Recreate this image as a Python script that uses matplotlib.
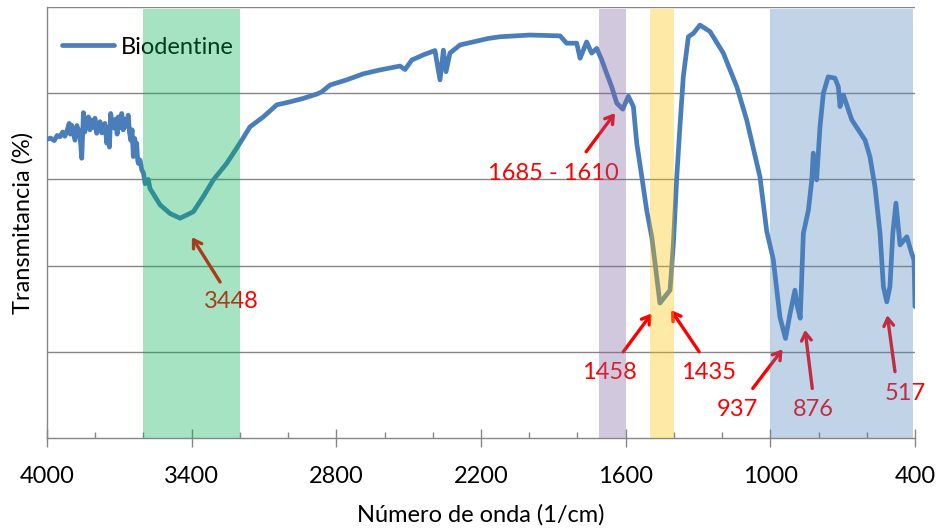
import matplotlib
matplotlib.use("Agg")
import matplotlib.pyplot as plt
from matplotlib.ticker import MultipleLocator

# ---------------- data ----------------
wavenumber = [4000, 3985, 3970, 3958, 3946, 3935, 3926, 3918, 3908, 3903, 3898,
              3891, 3884, 3876, 3870, 3866, 3860, 3856, 3852, 3849, 3843, 3839,
              3835, 3828, 3822, 3815, 3808, 3801, 3794, 3788, 3780, 3773, 3766,
              3760, 3752, 3746, 3741, 3736, 3729, 3722, 3715, 3709, 3704, 3697,
              3690, 3684, 3679, 3676, 3669, 3663, 3658, 3653, 3647, 3642, 3636,
              3632, 3628, 3624, 3621, 3614, 3607, 3600, 3593, 3586, 3580, 3573,
              3563, 3552, 3531, 3490, 3448, 3393, 3352,
              3310, 3255, 3200, 3158, 3103, 3047, 2992, 2937, 2881, 2861, 2826,
              2757, 2688, 2619, 2536, 2515, 2487, 2439, 2391, 2370, 2356, 2345,
              2329, 2287, 2232, 2170, 2121, 1997, 1872, 1845, 1803, 1789, 1762,
              1741, 1720, 1699, 1679, 1658, 1637, 1612, 1589, 1568, 1554, 1533,
              1513, 1492, 1478, 1458, 1437, 1416, 1402, 1388, 1375, 1361, 1340,
              1319, 1292, 1250, 1195, 1139, 1098, 1056, 1043, 1015, 988, 960,
              937, 918, 898, 888, 876, 863, 842, 828, 822, 808, 794, 780, 760,
              732, 718, 711, 697, 662, 635, 607, 587, 566, 545, 531, 517, 504,
              492, 479, 462, 434, 414, 404, 400]
transmittance = [69.3, 69.6, 69.0, 70.2, 69.9, 71.0, 70.0, 71.1, 73.0, 70.5, 72.6,
                 70.8, 69.1, 72.5, 70.6, 71.5, 68.0, 64.9, 70.5, 75.5, 71.0, 74.0,
                 72.2, 74.5, 71.5, 73.8, 72.0, 74.2, 70.7, 72.5, 73.4, 70.8, 71.1,
                 73.0, 68.4, 72.0, 67.5, 75.3, 72.8, 71.9, 74.0, 70.5, 74.5, 72.0,
                 75.3, 71.5, 74.0, 72.2, 73.5, 74.9, 71.0, 69.1, 71.5, 65.3, 69.5,
                 66.5, 68.4, 64.5, 63.7, 64.5, 62.2, 61.5, 59.0, 59.5, 60.0, 57.9,
                 57.0, 56.0, 54.1, 52.1, 51.0, 52.5, 56.0,
                 59.9, 63.7, 68.4, 72.2, 74.5, 77.3, 78.0, 78.8, 79.8, 80.3, 81.9,
                 83.1, 84.5, 85.4, 86.3, 85.5, 87.7, 88.9, 89.9, 83.1, 90.0, 85.0,
                 89.3, 91.2, 91.9, 92.7, 93.1, 93.5, 93.3, 91.6, 91.6, 88.1, 91.9,
                 89.3, 90.4, 87.7, 84.6, 81.5, 77.7, 76.3, 79.3, 76.9, 68.4, 60.6,
                 52.9, 46.7, 40.5, 31.3, 32.8, 34.3, 45.2, 60.6, 72.2, 83.8, 93.1,
                 93.9, 95.8, 94.3, 89.3, 81.5, 73.8, 63.7, 60.6, 48.0, 41.5, 28.0,
                 23.1, 28.9, 34.3, 30.5, 27.8, 47.5, 52.9, 59.9, 66.1, 59.9, 72.2,
                 80.0, 83.8, 83.5, 81.5, 76.9, 79.6, 73.8, 71.5, 69.1, 65.3, 58.3,
                 47.5, 35.1, 31.6, 35.1, 47.5, 54.5, 44.8, 46.7, 42.9, 41.3, 30.5]
series_name = "Biodentine"

band_ranges = [(3600, 3200), (1710, 1600), (1500, 1400), (1000, 408)]
band_colors = ["#00B050", "#8064A2", "#FFC000", "#4F81BD"]

peak_labels = ["3448", "1685 - 1610", "1458", "1435", "937", "876", "517"]
# (arrow head, arrow tail, text centre) in data units
peak_arrows = [((3399, 46.6), (3282, 36.2), (3237, 31.6)),
               ((1644, 75.4), (1764, 66.4), (1899, 61.4)),
               ((1492, 28.9), (1610, 20.0), (1666, 15.3)),
               ((1412, 29.7), (1295, 20.0), (1258, 15.3)),
               ((949, 20.6), (1073, 11.5), (1138, 6.7)),
               ((856, 25.1), (826, 11.5), (823, 6.7)),
               ((515, 28.5), (483, 15.4), (441, 10.4))]

x_ticks = [4000, 3400, 2800, 2200, 1600, 1000, 400]
y_grid = [20, 40, 60, 80, 100]

# ---------------- figure ----------------
plt.rcParams['font.family'] = ['Lato', 'DejaVu Sans']
FS = 17
fig = plt.figure(figsize=(9.4, 5.31), dpi=100)
ax = fig.add_axes([0.05, 0.1751, 0.9234, 0.8117])

ax.set_xlim(4000, 400)
ax.set_ylim(0, 100)

for g in y_grid:
    ax.axhline(g, color="#868686", lw=1.0, zorder=1)

ax.plot(wavenumber, transmittance, color="#4A7EBB", lw=3.4, zorder=3,
        solid_joinstyle="round", solid_capstyle="round", label=series_name)

red = "#FF0000"
for lab, (head, tail, txt) in zip(peak_labels, peak_arrows):
    ax.annotate("", xy=head, xytext=tail,
                arrowprops=dict(arrowstyle="->,head_length=0.55,head_width=0.35",
                                color=red, lw=2.4, shrinkA=0, shrinkB=0),
                zorder=4)
    ax.text(txt[0], txt[1], lab, color=red, fontsize=FS, ha="center",
            va="center", zorder=4)

leg = ax.legend(loc="center left", bbox_to_anchor=(0.017, 0.907), frameon=False,
                borderpad=0, borderaxespad=0, handlelength=2.2,
                handletextpad=0.3, fontsize=FS)
leg.set_zorder(4)

for (a, b), c in zip(band_ranges, band_colors):
    ax.axvspan(a, b, ymin=0, ymax=0.996, color=c, alpha=0.35, lw=0, zorder=6)

# axes styling
for s in ["top", "right"]:
    ax.spines[s].set_visible(False)
ax.spines["left"].set_color("#868686")
ax.spines["bottom"].set_color("#868686")
ax.spines["left"].set_linewidth(1.0)
ax.spines["bottom"].set_linewidth(1.0)

ax.set_xticks(x_ticks)
ax.set_xticklabels([str(t) for t in x_ticks])
ax.xaxis.set_minor_locator(MultipleLocator(200))
ax.tick_params(axis="x", which="major", direction="inout", length=13,
               width=1.0, color="#868686", labelsize=FS, pad=14)
ax.tick_params(axis="x", which="minor", direction="in", length=4.5,
               width=1.0, color="#868686")
ax.set_yticks([])

ax.set_xlabel("Número de onda (1/cm)", fontsize=FS, labelpad=12)
ax.set_ylabel("Transmitancia (%)", fontsize=FS, labelpad=10)

fig.savefig("out.png", dpi=100)
